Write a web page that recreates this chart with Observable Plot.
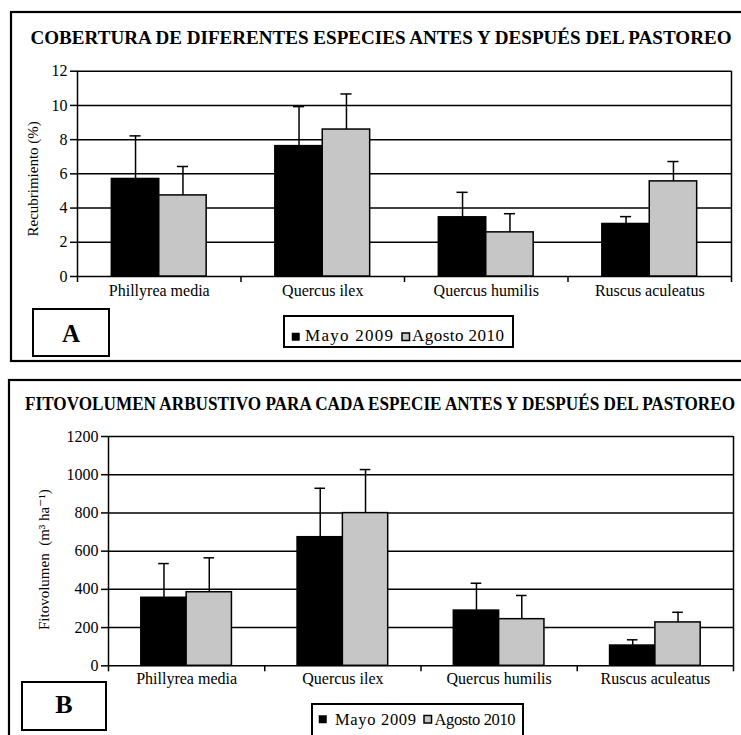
<!DOCTYPE html>
<html>
<head>
<meta charset="utf-8">
<script src="https://cdn.jsdelivr.net/npm/d3@7"></script>
<script src="https://cdn.jsdelivr.net/npm/@observablehq/plot@0.6"></script>
<style>
  body { margin: 0; background: #fff; font-family: "Liberation Serif", "DejaVu Serif", serif; }
  #page { position: relative; width: 741px; height: 735px; overflow: hidden; background: #fff; }
  #page > svg { position: absolute; left: 0; }
  #page svg text { font-family: "Liberation Serif", "DejaVu Serif", serif; }
  #overlay { position: absolute; left: 0; top: 0; pointer-events: none; }
</style>
</head>
<body>
<div id="page"></div>
<script>
// ---------- data ----------
const categories = ["Phillyrea media", "Quercus ilex", "Quercus humilis", "Ruscus aculeatus"];
const series = ["Mayo 2009", "Agosto 2010"];

// Panel A: Cobertura (%)
const coberturaMayo = [5.7, 7.62, 3.46, 3.07];
const coberturaMayoErr = [2.52, 2.31, 1.46, 0.43];
const coberturaAgosto = [4.74, 8.59, 2.58, 5.56];
const coberturaAgostoErr = [1.69, 2.08, 1.09, 1.16];
const coberturaTicks = [0, 2, 4, 6, 8, 10, 12];

// Panel B: Fitovolumen (m3 ha-1)
const fitoMayo = [356, 673, 289, 106];
const fitoMayoErr = [179, 256, 143, 30];
const fitoAgosto = [385, 799, 244, 227];
const fitoAgostoErr = [180, 228, 124, 53];
const fitoTicks = [0, 200, 400, 600, 800, 1000, 1200];

const titleA = "COBERTURA DE DIFERENTES ESPECIES ANTES Y DESPUÉS DEL PASTOREO";
const titleB = "FITOVOLUMEN ARBUSTIVO PARA CADA ESPECIE ANTES Y DESPUÉS DEL PASTOREO";
const ylabelA = "Recubrimiento (%)";
const ylabelB = "Fitovolumen\u00a0 (m³ ha⁻¹)";

const FONT = "Liberation Serif, DejaVu Serif, serif";
const GRAY = "#c6c6c6";

function buildRows(values, errors) {
  const rows = [];
  categories.forEach((cat, i) => {
    series.forEach((s, j) => {
      rows.push({ i, j, cat, series: s, value: values[j][i], err: errors[j][i] });
    });
  });
  return rows;
}

function panel(opts) {
  const rows = buildRows(opts.values, opts.errors);
  const bx1 = d => d.i + (d.j === 0 ? 0.21 : 0.5);
  const bx2 = d => d.i + (d.j === 0 ? 0.5 : 0.79);
  const xc = d => (bx1(d) + bx2(d)) / 2;
  const cap = 0.034;
  const top = d => d.value + d.err;
  const yMax = opts.ticks[opts.ticks.length - 1];
  return Plot.plot({
    width: 741,
    height: opts.height,
    marginLeft: opts.marginLeft,
    marginRight: opts.marginRight,
    marginTop: opts.marginTop,
    marginBottom: opts.marginBottom,
    x: { domain: [0, categories.length] },
    y: { domain: [0, yMax] },
    color: { domain: series, range: ["#000000", GRAY] },
    style: { fontFamily: FONT, fontSize: "16px", color: "#000", background: "transparent", overflow: "visible" },
    marks: [
      Plot.ruleY(opts.ticks, { stroke: "#000", strokeWidth: 1.5 }),
      Plot.ruleX([categories.length], { stroke: "#000", strokeWidth: 1.5 }),
      Plot.rect(rows, { x1: bx1, x2: bx2, y1: 0, y2: "value", fill: "series", stroke: "#000", strokeWidth: 1.5 }),
      Plot.ruleX(rows, { x: xc, y1: "value", y2: top, stroke: "#000", strokeWidth: 1.5 }),
      Plot.ruleY(rows, { y: top, x1: d => xc(d) - cap, x2: d => xc(d) + cap, stroke: "#000", strokeWidth: 1.5 }),
      Plot.ruleX([0], { stroke: "#000", strokeWidth: 1.5 }),
      Plot.axisY({ ticks: opts.ticks, tickSize: 7, tickPadding: 3, strokeWidth: 1.5, label: null, fontSize: 16, fontFamily: FONT, tickFormat: d => String(d) }),
      Plot.axisX({ ticks: d3.range(categories.length + 1), tickSize: 6, strokeWidth: 1.5, tickFormat: () => "", label: null }),
      Plot.axisX({ ticks: categories.map((c, i) => i + 0.5), tickSize: 0, tickPadding: opts.labelPad, tickFormat: v => categories[Math.floor(v)], label: null, fontSize: 16, fontFamily: FONT }),
      Plot.text([opts.ylabel], { text: d => d, frameAnchor: "left", rotate: -90, dx: opts.ylabelDx, dy: opts.ylabelDy, fontSize: 15, fontFamily: FONT, textAnchor: "middle" })
    ]
  });
}

const page = document.getElementById("page");

const plotA = panel({
  values: [coberturaMayo, coberturaAgosto],
  errors: [coberturaMayoErr, coberturaAgostoErr],
  ticks: coberturaTicks,
  height: 265, marginLeft: 77, marginRight: 10, marginTop: 15.7, marginBottom: 44,
  labelPad: 8, ylabel: ylabelA, ylabelDx: -44, ylabelDy: 5
});
plotA.style.top = "55px";
page.appendChild(plotA);

const plotB = panel({
  values: [fitoMayo, fitoAgosto],
  errors: [fitoMayoErr, fitoAgostoErr],
  ticks: fitoTicks,
  height: 290, marginLeft: 108, marginRight: 8, marginTop: 16, marginBottom: 44.7,
  labelPad: 7, ylabel: ylabelB, ylabelDx: -64, ylabelDy: 8.5
});
plotB.style.top = "420px";
page.appendChild(plotB);

// ---------- overlay: panel frames, titles, tags, legends ----------
const svg = d3.create("svg").attr("id", "overlay").attr("width", 741).attr("height", 735)
  .attr("font-family", FONT);

function frame(x, y, w, h, sw) {
  svg.append("rect").attr("x", x).attr("y", y).attr("width", w).attr("height", h)
    .attr("fill", "none").attr("stroke", "#000").attr("stroke-width", sw);
}
function title(t, x, y, len, size) {
  svg.append("text").attr("x", x).attr("y", y).attr("font-size", size).attr("font-weight", "bold")
    .attr("textLength", len).attr("lengthAdjust", "spacingAndGlyphs").text(t);
}
function tag(t, x, y, w, h, base, size) {
  frame(x, y, w, h, 2);
  svg.append("text").attr("x", x + w / 2).attr("y", base).attr("text-anchor", "middle")
    .attr("font-size", size).attr("font-weight", "bold").text(t);
}
function legend(x, y, w, h, items) {
  svg.append("rect").attr("x", x).attr("y", y).attr("width", w).attr("height", h)
    .attr("fill", "#fff").attr("stroke", "#000").attr("stroke-width", 2);
  items.forEach((it, k) => {
    svg.append("rect").attr("x", it.sx).attr("y", it.sy).attr("width", 7.5).attr("height", 7.5)
      .attr("fill", k === 0 ? "#000" : GRAY).attr("stroke", "#000").attr("stroke-width", k === 0 ? 0.5 : 1.5);
    svg.append("text").attr("x", it.tx).attr("y", it.ty).attr("font-size", it.size)
      .attr("textLength", it.len).attr("lengthAdjust", "spacing").text(series[k]);
  });
}

frame(11, 12, 760, 349, 2.2);
frame(9, 380, 760, 380, 2.2);
title(titleA, 30.5, 43.5, 701, 19);
title(titleB, 25, 409.5, 710, 19);
tag("A", 33, 309, 76, 47, 341.5, 25);
tag("B", 22, 682, 84, 48, 712.5, 26);
legend(284, 316, 229, 31, [
  { sx: 292, sy: 333, tx: 305, ty: 340.5, len: 88, size: 17 },
  { sx: 402, sy: 333, tx: 412, ty: 340.5, len: 92, size: 17 }
]);
legend(312, 704, 211, 34, [
  { sx: 319, sy: 715.5, tx: 335, ty: 724.5, len: 81, size: 16.5 },
  { sx: 424, sy: 715.5, tx: 434.5, ty: 724.5, len: 81, size: 16.5 }
]);

page.appendChild(svg.node());
</script>
</body>
</html>
